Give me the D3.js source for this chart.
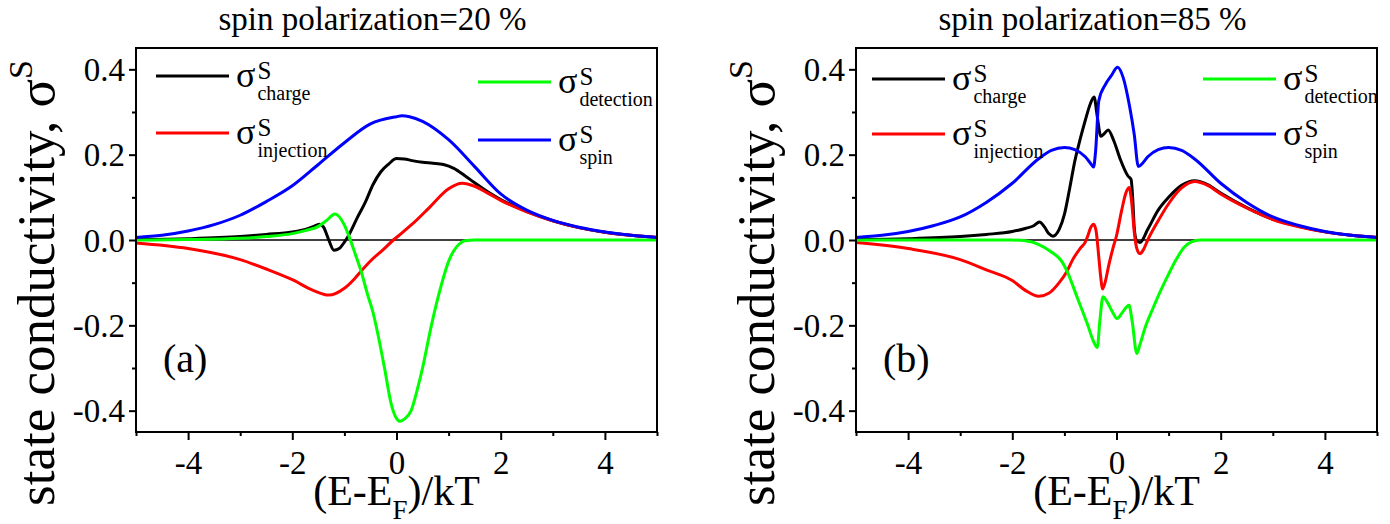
<!DOCTYPE html>
<html>
<head>
<meta charset="utf-8">
<script src="https://cdn.jsdelivr.net/npm/d3@7"></script>
<style>
  html, body { margin: 0; padding: 0; background: #fff; }
  svg { display: block; }
  text { font-family: "Liberation Serif", "Times New Roman", serif; fill: #000; }
</style>
</head>
<body>
<svg id="chart" width="1390" height="524"></svg>
<script>
// ---- axis ticks ----
const energyTicks = [-4, -2, 0, 2, 4];
const energyMinorTicks = [-5, -3, -1, 1, 3, 5];
const condTicks = [-0.4, -0.2, 0.0, 0.2, 0.4];
const condMinorTicks = [-0.3, -0.1, 0.1, 0.3];

const panelTitles = ["spin polarization=20 %", "spin polarization=85 %"];
const panelTags = ["(a)", "(b)"];
const seriesNames = ["charge", "injection", "detection", "spin"];

// ---- panel (a): spin polarization 20 % ----
const aChargeE = [-5, -4, -3, -2.5, -2, -1.75, -1.6, -1.48, -1.4, -1.3, -1.2, -1.1, -1.0, -0.9, -0.75, -0.6, -0.45, -0.3, -0.15, 0, 0.15, 0.3, 0.5, 0.7, 0.9, 1.1, 1.3, 1.5, 1.75, 2, 2.5, 3, 3.5, 4, 4.5, 5];
const aChargeS = [0.001, 0.003, 0.008, 0.013, 0.019, 0.025, 0.031, 0.037, 0.03, 0.0, -0.024, -0.02, -0.005, 0.015, 0.053, 0.088, 0.13, 0.16, 0.178, 0.191, 0.19, 0.186, 0.182, 0.18, 0.177, 0.168, 0.152, 0.134, 0.113, 0.095, 0.067, 0.045, 0.029, 0.018, 0.011, 0.006];

const aInjectionE = [-5, -4, -3, -2.5, -2, -1.6, -1.3, -1.0, -0.8, -0.68, -0.49, -0.25, -0.06, 0.1, 0.3, 0.63, 1.0, 1.26, 1.5, 1.75, 2, 2.5, 3, 3.5, 4, 4.5, 5];
const aInjectionS = [-0.007, -0.02, -0.046, -0.068, -0.093, -0.118, -0.129, -0.113, -0.09, -0.073, -0.048, -0.022, 0.0, 0.016, 0.037, 0.076, 0.12, 0.133, 0.126, 0.11, 0.093, 0.066, 0.045, 0.029, 0.018, 0.011, 0.006];

const aDetectionE = [-5, -4, -3, -2.5, -2, -1.75, -1.5, -1.35, -1.18, -1.0, -0.9, -0.8, -0.68, -0.55, -0.45, -0.35, -0.23, -0.1, 0.0, 0.07, 0.15, 0.28, 0.4, 0.5, 0.67, 0.85, 1.0, 1.1, 1.2, 1.31, 1.5, 2, 3, 4, 5];
const aDetectionS = [0.0, 0.001, 0.004, 0.008, 0.015, 0.022, 0.032, 0.045, 0.061, 0.035, 0.005, -0.03, -0.073, -0.13, -0.17, -0.225, -0.3, -0.385, -0.418, -0.425, -0.42, -0.4, -0.35, -0.3, -0.2, -0.11, -0.05, -0.025, -0.01, -0.002, 0, 0, 0, 0, 0];

const aSpinE = [-5, -4.5, -4, -3.5, -3, -2.5, -2, -1.5, -1, -0.5, 0, 0.1, 0.25, 0.5, 1, 1.5, 2, 2.5, 3, 3.5, 4, 4.5, 5];
const aSpinS = [0.006, 0.011, 0.021, 0.036, 0.058, 0.09, 0.127, 0.177, 0.228, 0.272, 0.289, 0.291, 0.289, 0.278, 0.235, 0.172, 0.108, 0.07, 0.046, 0.03, 0.019, 0.011, 0.006];

// ---- panel (b): spin polarization 85 % ----
const bChargeE = [-5, -4, -3, -2.5, -2, -1.75, -1.58, -1.48, -1.38, -1.3, -1.22, -1.1, -1.0, -0.9, -0.8, -0.7, -0.6, -0.5, -0.43, -0.37, -0.3, -0.23, -0.16, -0.05, 0.07, 0.22, 0.28, 0.31, 0.34, 0.38, 0.45, 0.6, 0.8, 1.0, 1.25, 1.5, 1.75, 2, 2.5, 3, 3.5, 4, 4.5, 5];
const bChargeS = [0.001, 0.003, 0.008, 0.013, 0.02, 0.027, 0.034, 0.042, 0.03, 0.015, 0.009, 0.025, 0.06, 0.12, 0.185, 0.235, 0.28, 0.32, 0.335, 0.29, 0.243, 0.25, 0.258, 0.232, 0.19, 0.15, 0.142, 0.1, 0.03, 0.0, -0.006, 0.025, 0.07, 0.1, 0.128, 0.139, 0.13, 0.11, 0.076, 0.049, 0.032, 0.019, 0.011, 0.006];

const bInjectionE = [-5, -4, -3, -2.5, -2, -1.75, -1.49, -1.3, -1.1, -0.95, -0.84, -0.7, -0.6, -0.55, -0.5, -0.44, -0.39, -0.34, -0.3, -0.27, -0.22, -0.15, -0.07, 0.0, 0.1, 0.18, 0.24, 0.29, 0.34, 0.39, 0.45, 0.52, 0.6, 0.8, 1.0, 1.25, 1.5, 1.75, 2, 2.5, 3, 3.5, 4, 4.5, 5];
const bInjectionS = [-0.006, -0.02, -0.046, -0.07, -0.095, -0.118, -0.132, -0.125, -0.1, -0.073, -0.046, -0.02, -0.005, 0.01, 0.028, 0.037, 0.02, -0.04, -0.09, -0.115, -0.1, -0.06, -0.02, 0.01, 0.07, 0.11, 0.123, 0.09, 0.02, -0.02, -0.032, -0.022, 0.0, 0.045, 0.085, 0.122, 0.137, 0.128, 0.108, 0.075, 0.048, 0.031, 0.019, 0.011, 0.006];

const bDetectionE = [-5, -3, -2, -1.75, -1.5, -1.25, -1.05, -0.95, -0.75, -0.55, -0.45, -0.37, -0.32, -0.26, -0.18, -0.08, 0.01, 0.1, 0.2, 0.24, 0.3, 0.39, 0.45, 0.55, 0.7, 0.85, 1.0, 1.14, 1.3, 1.45, 1.6, 2, 3, 4, 5];
const bDetectionS = [0, 0, 0, -0.002, -0.01, -0.028, -0.05, -0.073, -0.136, -0.2, -0.235, -0.252, -0.19, -0.133, -0.145, -0.168, -0.184, -0.172, -0.156, -0.153, -0.19, -0.266, -0.245, -0.205, -0.16, -0.118, -0.08, -0.047, -0.017, -0.004, 0, 0, 0, 0, 0];

const bSpinE = [-5, -4.5, -4, -3.5, -3, -2.5, -2, -1.5, -1.25, -1.0, -0.8, -0.6, -0.5, -0.44, -0.4, -0.34, -0.21, -0.1, 0.02, 0.13, 0.25, 0.34, 0.42, 0.5, 0.6, 0.8, 1.0, 1.25, 1.5, 2, 2.5, 3, 3.5, 4, 4.5, 5];
const bSpinS = [0.006, 0.011, 0.02, 0.034, 0.054, 0.088, 0.133, 0.19, 0.21, 0.217, 0.212, 0.195, 0.18, 0.171, 0.21, 0.326, 0.365, 0.385, 0.405, 0.38, 0.314, 0.248, 0.172, 0.18, 0.195, 0.212, 0.217, 0.21, 0.19, 0.133, 0.088, 0.054, 0.034, 0.02, 0.011, 0.006];

// ---- styling ----
const seriesColors = { charge: "#000000", injection: "#ff0000", detection: "#00ff00", spin: "#0000ff" };
const drawOrder = ["charge", "injection", "detection", "spin"];

const panels = [
  {
    left: 136, right: 657, title: panelTitles[0], tag: panelTags[0],
    data: {
      charge: [aChargeE, aChargeS], injection: [aInjectionE, aInjectionS],
      detection: [aDetectionE, aDetectionS], spin: [aSpinE, aSpinS]
    },
    legend: { charge: [20, 76], injection: [20, 133], detection: [342, 82], spin: [342, 140] }
  },
  {
    left: 856, right: 1377, title: panelTitles[1], tag: panelTags[1],
    data: {
      charge: [bChargeE, bChargeS], injection: [bInjectionE, bInjectionS],
      detection: [bDetectionE, bDetectionS], spin: [bSpinE, bSpinS]
    },
    legend: { charge: [16, 79], injection: [16, 134], detection: [347, 79], spin: [347, 134] }
  }
];

const plotTop = 48, plotBottom = 432;
const serif = "Liberation Serif, Times New Roman, serif";
const svg = d3.select("#chart");

panels.forEach(p => {
  const x = d3.scaleLinear().domain([-5, 5]).range([p.left, p.right]);
  const y = d3.scaleLinear().domain([-0.45, 0.45]).range([plotBottom, plotTop]);
  const g = svg.append("g").attr("font-family", serif);

  // zero reference line
  g.append("line")
    .attr("x1", x(-5)).attr("x2", x(5))
    .attr("y1", y(0)).attr("y2", y(0))
    .attr("stroke", "#000").attr("stroke-width", 1.6);

  // curves
  const line = d3.line()
    .x(d => x(d[0])).y(d => y(d[1]))
    .curve(d3.curveMonotoneX);
  drawOrder.forEach(k => {
    const [es, ss] = p.data[k];
    const pts = es.map((e, i) => [e, ss[i]]);
    g.append("path")
      .datum(pts)
      .attr("d", line)
      .attr("fill", "none")
      .attr("stroke", seriesColors[k])
      .attr("stroke-width", 3)
      .attr("stroke-linejoin", "round");
  });

  // frame
  g.append("rect")
    .attr("x", p.left).attr("y", plotTop)
    .attr("width", p.right - p.left).attr("height", plotBottom - plotTop)
    .attr("fill", "none").attr("stroke", "#000").attr("stroke-width", 2);

  // bottom axis
  const xAxis = d3.axisBottom(x).tickValues(energyTicks).tickSize(8).tickSizeOuter(0)
    .tickFormat(d => String(d));
  const xg = g.append("g").attr("transform", `translate(0,${plotBottom})`).call(xAxis);
  xg.attr("font-family", serif);
  xg.select(".domain").remove();
  xg.selectAll(".tick line").attr("stroke-width", 2);
  xg.selectAll(".tick text")
    .attr("font-size", 33).attr("dy", null).attr("y", 42);
  const xMinor = d3.axisBottom(x).tickValues(energyMinorTicks).tickSize(4).tickFormat("");
  const xmg = g.append("g").attr("transform", `translate(0,${plotBottom})`).call(xMinor);
  xmg.select(".domain").remove();
  xmg.selectAll(".tick line").attr("stroke-width", 2);

  // left axis
  const yAxis = d3.axisLeft(y).tickValues(condTicks).tickSize(7).tickSizeOuter(0)
    .tickFormat(d => d.toFixed(1));
  const yg = g.append("g").attr("transform", `translate(${p.left},0)`).call(yAxis);
  yg.attr("font-family", serif);
  yg.select(".domain").remove();
  yg.selectAll(".tick line").attr("stroke-width", 2);
  yg.selectAll(".tick text")
    .attr("font-size", 33).attr("x", -11).attr("dy", "0.34em");
  const yMinor = d3.axisLeft(y).tickValues(condMinorTicks).tickSize(4).tickFormat("");
  const ymg = g.append("g").attr("transform", `translate(${p.left},0)`).call(yMinor);
  ymg.select(".domain").remove();
  ymg.selectAll(".tick line").attr("stroke-width", 2);

  // title
  g.append("text")
    .attr("x", (p.left + p.right) / 2 - 24).attr("y", 30)
    .attr("text-anchor", "middle").attr("font-size", 33)
    .text(p.title);

  // panel tag
  g.append("text")
    .attr("x", p.left + 27).attr("y", 372)
    .attr("font-size", 40)
    .text(p.tag);

  // x-axis label: (E-E_F)/kT
  const xl = g.append("text")
    .attr("x", (p.left + p.right) / 2).attr("y", 505)
    .attr("text-anchor", "middle").attr("font-size", 42);
  xl.append("tspan").text("(E-E");
  xl.append("tspan").attr("font-size", 27).attr("dy", 14).text("F");
  xl.append("tspan").attr("dy", -14).text(")/kT");

  // y-axis label: state conductivity, σ^S
  const yl = g.append("text")
    .attr("transform", `translate(${p.left - 82},${283}) rotate(-90)`)
    .attr("text-anchor", "middle").attr("font-size", 53);
  yl.append("tspan").text("state conductivity, σ");
  yl.append("tspan").attr("font-size", 34).attr("dy", -22).text("S");

  // legend
  drawOrder.forEach(k => {
    const [dx, ly] = p.legend[k];
    const x0 = p.left + dx;
    g.append("line")
      .attr("x1", x0).attr("x2", x0 + 73)
      .attr("y1", ly).attr("y2", ly)
      .attr("stroke", seriesColors[k]).attr("stroke-width", 3);
    const sig = g.append("text")
      .attr("x", x0 + 80).attr("y", ly + 11)
      .attr("font-size", 36).text("σ");
    const w = sig.node().getComputedTextLength();
    g.append("text")
      .attr("x", x0 + 82 + w).attr("y", ly + 3)
      .attr("font-size", 25).text("S");
    g.append("text")
      .attr("x", x0 + 82 + w).attr("y", ly + 24)
      .attr("font-size", 20).text(k);
  });
});
</script>
</body>
</html>
